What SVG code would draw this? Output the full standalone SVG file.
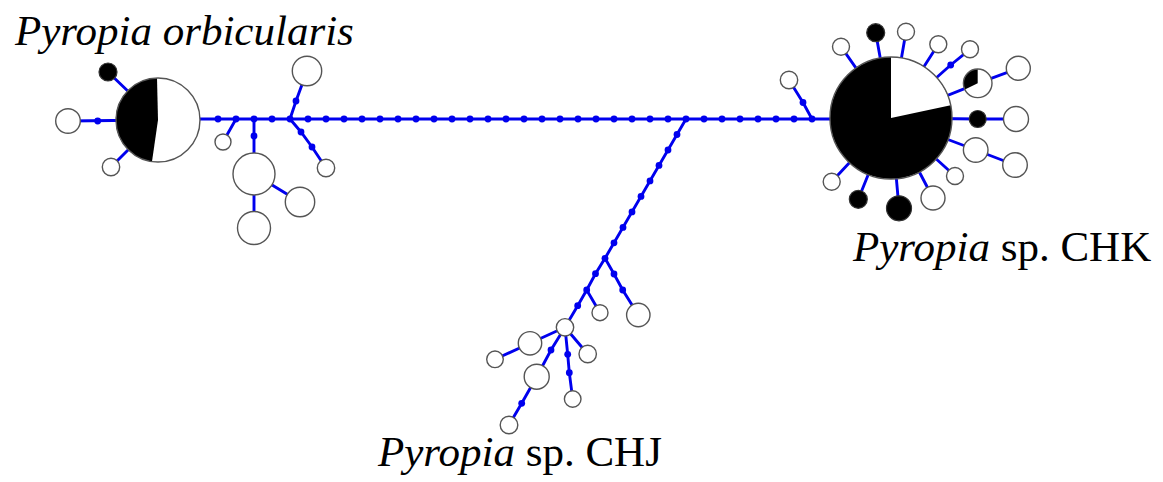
<svg xmlns="http://www.w3.org/2000/svg" width="1163" height="482" viewBox="0 0 1163 482">
<style>
.e{stroke:#0000ee;stroke-width:2.9;fill:none;stroke-linecap:round}
.d{fill:#0000ee}
.w{fill:#fff;stroke:#555;stroke-width:1.4}
.b{fill:#000;stroke:#333;stroke-width:1.2}
.o{fill:none;stroke:#555;stroke-width:1.4}
.t{font-family:"Liberation Serif","Times New Roman",serif;font-size:43px;fill:#000}
.i{font-style:italic}
</style>
<rect width="1163" height="482" fill="#fff"/>
<g id="connectors">
<line class="e" x1="158" y1="119" x2="891" y2="119"/>
<line class="e" x1="68" y1="121" x2="158" y2="120"/>
<line class="e" x1="108" y1="72" x2="158" y2="120"/>
<line class="e" x1="111" y1="167" x2="158" y2="120"/>
<line class="e" x1="236" y1="119" x2="223" y2="142"/>
<polyline class="e" points="254,119 254,174 300,202"/>
<line class="e" x1="254" y1="174" x2="254" y2="228"/>
<polyline class="e" points="290,119 296,101 307,71"/>
<polyline class="e" points="290,119 301,132 312,147 326,168"/>
<polyline class="e" points="812,119 803,102.5 789,80"/>
<polyline class="e" points="686,119 605,258.3"/>
<polyline class="e" points="605,258.3 595.5,273.7 586.7,290 577.7,305.7 565,327.3"/>
<line class="e" x1="586.7" y1="290" x2="600" y2="312.7"/>
<polyline class="e" points="605,258.3 614,274 622.7,290 638.3,315"/>
<polyline class="e" points="565,327.3 530,343.3 495,359.3"/>
<line class="e" x1="565" y1="327.3" x2="587.7" y2="354"/>
<polyline class="e" points="565,327.3 567.7,354.3 569.3,372.7 572.7,399"/>
<polyline class="e" points="565,327.3 551,350 536.7,376.7 521.7,403.3 509,425"/>
<line class="e" x1="891" y1="118" x2="841" y2="46.7"/>
<line class="e" x1="891" y1="118" x2="875.7" y2="32.7"/>
<line class="e" x1="891" y1="118" x2="906" y2="31.7"/>
<line class="e" x1="891" y1="118" x2="938.3" y2="44.3"/>
<polyline class="e" points="891,118 950.7,65 970,49.3"/>
<polyline class="e" points="891,118 977.7,83.3 1018.3,68.3"/>
<polyline class="e" points="891,118 977.7,119 1016,119"/>
<polyline class="e" points="891,118 975.7,150 1015,165"/>
<line class="e" x1="891" y1="118" x2="955" y2="176"/>
<line class="e" x1="891" y1="118" x2="933" y2="198"/>
<line class="e" x1="891" y1="118" x2="899" y2="208.3"/>
<line class="e" x1="891" y1="118" x2="858.3" y2="199.3"/>
<line class="e" x1="891" y1="118" x2="831.7" y2="181.7"/>
<g id="mutations">
<circle class="d" cx="97.7" cy="121" r="3.4"/>
<circle class="d" cx="218" cy="119" r="3.4"/><circle class="d" cx="236" cy="119" r="3.4"/><circle class="d" cx="254" cy="119" r="3.4"/><circle class="d" cx="272" cy="119" r="3.4"/><circle class="d" cx="290" cy="119" r="3.4"/><circle class="d" cx="308" cy="119" r="3.4"/><circle class="d" cx="326" cy="119" r="3.4"/><circle class="d" cx="344" cy="119" r="3.4"/><circle class="d" cx="362" cy="119" r="3.4"/><circle class="d" cx="380" cy="119" r="3.4"/><circle class="d" cx="398" cy="119" r="3.4"/><circle class="d" cx="416" cy="119" r="3.4"/><circle class="d" cx="434" cy="119" r="3.4"/><circle class="d" cx="452" cy="119" r="3.4"/><circle class="d" cx="470" cy="119" r="3.4"/><circle class="d" cx="488" cy="119" r="3.4"/><circle class="d" cx="506" cy="119" r="3.4"/><circle class="d" cx="524" cy="119" r="3.4"/><circle class="d" cx="542" cy="119" r="3.4"/><circle class="d" cx="560" cy="119" r="3.4"/><circle class="d" cx="578" cy="119" r="3.4"/><circle class="d" cx="596" cy="119" r="3.4"/><circle class="d" cx="614" cy="119" r="3.4"/><circle class="d" cx="632" cy="119" r="3.4"/><circle class="d" cx="650" cy="119" r="3.4"/><circle class="d" cx="668" cy="119" r="3.4"/><circle class="d" cx="686" cy="119" r="3.4"/><circle class="d" cx="704" cy="119" r="3.4"/><circle class="d" cx="722" cy="119" r="3.4"/><circle class="d" cx="740" cy="119" r="3.4"/><circle class="d" cx="758" cy="119" r="3.4"/><circle class="d" cx="776" cy="119" r="3.4"/><circle class="d" cx="794" cy="119" r="3.4"/><circle class="d" cx="812" cy="119" r="3.4"/>
<circle class="d" cx="254" cy="136" r="3.4"/>
<circle class="d" cx="296" cy="101" r="3.4"/>
<circle class="d" cx="301" cy="132" r="3.4"/><circle class="d" cx="312" cy="147" r="3.4"/>
<circle class="d" cx="803" cy="102.5" r="3.4"/>
<circle class="d" cx="677" cy="134.5" r="3.4"/><circle class="d" cx="668" cy="150" r="3.4"/><circle class="d" cx="659" cy="165.4" r="3.4"/><circle class="d" cx="650" cy="180.9" r="3.4"/><circle class="d" cx="641" cy="196.4" r="3.4"/><circle class="d" cx="632" cy="211.9" r="3.4"/><circle class="d" cx="623" cy="227.4" r="3.4"/><circle class="d" cx="614" cy="242.8" r="3.4"/><circle class="d" cx="605" cy="258.3" r="3.4"/>
<circle class="d" cx="595.5" cy="273.7" r="3.4"/><circle class="d" cx="586.7" cy="290" r="3.4"/><circle class="d" cx="577.7" cy="305.7" r="3.4"/>
<circle class="d" cx="614" cy="274" r="3.4"/><circle class="d" cx="622.7" cy="290" r="3.4"/>
<circle class="d" cx="567.7" cy="354.3" r="3.4"/><circle class="d" cx="569.3" cy="372.7" r="3.4"/>
<circle class="d" cx="551" cy="350" r="3.4"/><circle class="d" cx="521.7" cy="403.3" r="3.4"/>
<circle class="d" cx="950.7" cy="65" r="3.4"/>
</g>
</g>
<g id="orbicularis-main">
<circle cx="158" cy="120" r="42" fill="#fff"/>
<path d="M158,120 L157,78 A42,42 0 0,0 152,161.6 Z" fill="#000"/>
<circle class="o" cx="158" cy="120" r="42"/>
</g>
<g id="o1"><circle class="b" cx="108" cy="72" r="9"/></g>
<g id="o2"><circle class="w" cx="68" cy="121" r="12.3"/></g>
<g id="o3"><circle class="w" cx="111" cy="167" r="8.7"/></g>
<g id="o4"><circle class="w" cx="223" cy="142" r="8"/></g>
<g id="o5"><circle class="w" cx="254" cy="174" r="21"/></g>
<g id="o6"><circle class="w" cx="300" cy="202" r="14.7"/></g>
<g id="o7"><circle class="w" cx="254" cy="228" r="16.5"/></g>
<g id="o8"><circle class="w" cx="307" cy="71" r="14.7"/></g>
<g id="o9"><circle class="w" cx="326" cy="168" r="8.7"/></g>
<g id="chk-main">
<circle cx="891" cy="118" r="61" fill="#000"/>
<path d="M891,118 L891,57 A61,61 0 0,1 950.67,105.32 Z" fill="#fff"/>
<circle class="o" cx="891" cy="118" r="61"/>
</g>
<g id="k0"><circle class="w" cx="789" cy="80" r="8.7"/></g>
<g id="k1"><circle class="w" cx="841" cy="46.7" r="8.5"/></g>
<g id="k2"><circle class="b" cx="875.7" cy="32.7" r="9"/></g>
<g id="k3"><circle class="w" cx="906" cy="31.7" r="8.5"/></g>
<g id="k4"><circle class="w" cx="938.3" cy="44.3" r="8.5"/></g>
<g id="k5"><circle class="w" cx="970" cy="49.3" r="8.5"/></g>
<g id="k6">
<circle cx="977.7" cy="83.3" r="14.3" fill="#fff"/>
<path d="M977.7,83.3 L977.7,69 A14.3,14.3 0 0,0 964.85,89.57 Z" fill="#000"/>
<circle class="o" cx="977.7" cy="83.3" r="14.3"/>
</g>
<g id="k7"><circle class="w" cx="1018.3" cy="68.3" r="12"/></g>
<g id="k8"><circle class="b" cx="977.7" cy="119" r="8.5"/></g>
<g id="k9"><circle class="w" cx="1016" cy="119" r="12.5"/></g>
<g id="k10"><circle class="w" cx="975.7" cy="150" r="12.3"/></g>
<g id="k11"><circle class="w" cx="1015" cy="165" r="12.3"/></g>
<g id="k12"><circle class="w" cx="955" cy="176" r="8.5"/></g>
<g id="k13"><circle class="w" cx="933" cy="198" r="12"/></g>
<g id="k14"><circle class="b" cx="899" cy="208.3" r="12.5"/></g>
<g id="k15"><circle class="b" cx="858.3" cy="199.3" r="9"/></g>
<g id="k16"><circle class="w" cx="831.7" cy="181.7" r="8.5"/></g>
<g id="j1"><circle class="w" cx="600" cy="312.7" r="8"/></g>
<g id="j2"><circle class="w" cx="638.3" cy="315" r="11.7"/></g>
<g id="j3"><circle class="w" cx="565" cy="327.3" r="8.7"/></g>
<g id="j4"><circle class="w" cx="530" cy="343.3" r="11.7"/></g>
<g id="j5"><circle class="w" cx="495" cy="359.3" r="8.3"/></g>
<g id="j6"><circle class="w" cx="587.7" cy="354" r="8.7"/></g>
<g id="j7"><circle class="w" cx="572.7" cy="399" r="8.3"/></g>
<g id="j8"><circle class="w" cx="536.7" cy="376.7" r="12.5"/></g>
<g id="j9"><circle class="w" cx="509" cy="425" r="8.8"/></g>
<g id="labels">
<text class="t i" x="15" y="45">Pyropia orbicularis</text>
<text class="t" x="853" y="261"><tspan class="i">Pyropia</tspan> sp. CHK</text>
<text class="t" x="378" y="466"><tspan class="i">Pyropia</tspan> sp. CHJ</text>
</g>
</svg>
